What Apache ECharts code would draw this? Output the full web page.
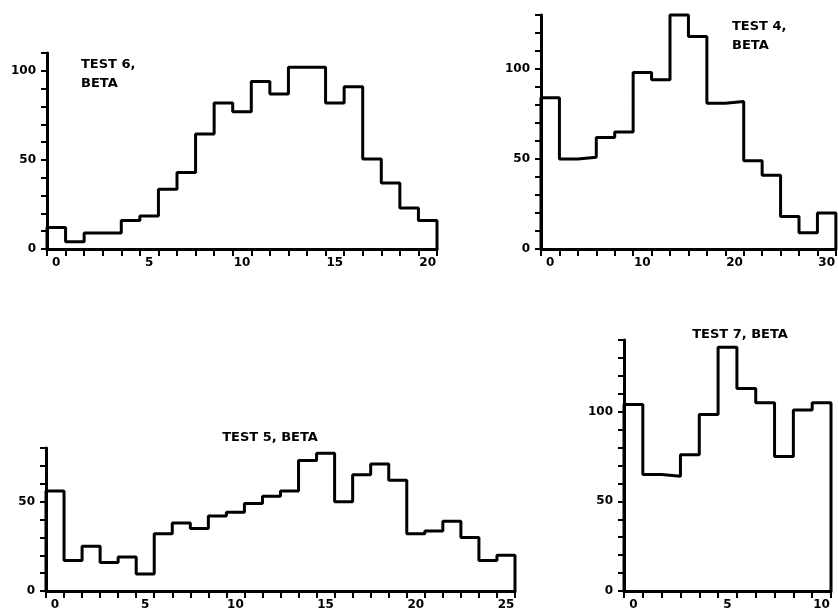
<!DOCTYPE html>
<html>
<head>
<meta charset="utf-8">
<script src="https://cdn.jsdelivr.net/npm/echarts@6/dist/echarts.min.js"></script>
<style>html,body{margin:0;padding:0;background:#fff;}#c{width:838px;height:611px;}</style>
</head>
<body>
<div id="c"></div>
<script>
// ---- Data ----
const test6Categories = [0,1,2,3,4,5,6,7,8,9,10,11,12,13,14,15,16,17,18,19,20];
const test6Values = [12,4,9,9,16,18.5,33.5,43,64.5,82,77,94,87,102,102,82,91,50.5,37,23,16];

const test4Categories = [0,2,4,6,8,10,12,14,16,18,20,22,24,26,28,30];
const test4Values = [84,50,51,62,65,98,94,130,118,81,82,49,41,18,9,20];

const test5Categories = [0,1,2,3,4,5,6,7,8,9,10,11,12,13,14,15,16,17,18,19,20,21,22,23,24,25];
const test5Values = [56,17,25,16,19,9.5,32,38,35,42,44,49,53,56,73,77,50,65,71,62,32,33.5,39,30,17,20];

const test7Categories = [0,1,2,3,4,5,6,7,8,9,10];
const test7Values = [104,65,64,76,98.5,136,113,105,75,101,105];

const yTickLabels = [0, 50, 100];
const titles = ['TEST 6,\nBETA', 'TEST 4,\nBETA', 'TEST 5, BETA', 'TEST 7, BETA'];

// ---- Layout ----
const panels = [
  {cats: test6Categories, vals: test6Values, yMax: 110, grid: {left: 47, top: 53, width: 390, height: 196}},
  {cats: test4Categories, vals: test4Values, yMax: 130, grid: {left: 541, top: 15, width: 295, height: 234}},
  {cats: test5Categories, vals: test5Values, yMax: 80, grid: {left: 46, top: 448, width: 469, height: 146}},
  {cats: test7Categories, vals: test7Values, yMax: 140, grid: {left: 624, top: 340, width: 207, height: 255}}
];
const titlePos = [
  {left: 81, top: 55, textAlign: 'left'},
  {left: 732, top: 17, textAlign: 'left'},
  {left: 270, top: 428, textAlign: 'center'},
  {left: 740, top: 325, textAlign: 'center'}
];

const font = 'DejaVu Sans';
const ink = '#000';

function stepData(vals) {
  const n = vals.length;
  const d = [[0, 0]];
  vals.forEach((v, i) => d.push([i, v]));
  d.push([n, vals[n - 1]]);
  d.push([n, 0]);
  return d;
}

const option = {
  animation: false,
  backgroundColor: '#fff',
  title: titles.map((t, i) => ({
    text: t, left: titlePos[i].left, top: titlePos[i].top, textAlign: titlePos[i].textAlign, padding: 0,
    textStyle: {fontFamily: font, fontWeight: 'bold', fontSize: 13, color: ink, lineHeight: 19}
  })),
  grid: panels.map(p => Object.assign({containLabel: false}, p.grid)),
  xAxis: [],
  yAxis: [],
  series: []
};

panels.forEach((p, i) => {
  // category axis for labels and ticks
  option.xAxis.push({
    type: 'category', gridIndex: i, data: p.cats.map(String), boundaryGap: true,
    axisLine: {show: true, lineStyle: {color: ink, width: 3}},
    axisTick: {show: true, interval: 0, length: 7, lineStyle: {color: ink, width: 2}},
    axisLabel: {interval: 4, margin: 8, color: ink, fontFamily: font, fontWeight: 'bold', fontSize: 12},
    splitLine: {show: false}
  });
  // hidden value axis for the step outline
  option.xAxis.push({
    type: 'value', gridIndex: i, min: 0, max: p.vals.length, show: false
  });
  option.yAxis.push({
    type: 'value', gridIndex: i, min: 0, max: p.yMax, interval: 10,
    axisLine: {show: true, lineStyle: {color: ink, width: 3}},
    axisTick: {show: true, length: 6, lineStyle: {color: ink, width: 2}},
    axisLabel: {
      margin: 11, color: ink, fontFamily: font, fontWeight: 'bold', fontSize: 12,
      formatter: v => yTickLabels.includes(v) ? String(v) : ''
    },
    splitLine: {show: false}
  });
  option.series.push({
    type: 'line', xAxisIndex: 2 * i + 1, yAxisIndex: i, step: 'end',
    data: stepData(p.vals), showSymbol: false, clip: false,
    lineStyle: {color: ink, width: 3}
  });
});

const chart = echarts.init(document.getElementById('c'), null, {renderer: 'canvas'});
chart.setOption(option);
</script>
</body>
</html>
